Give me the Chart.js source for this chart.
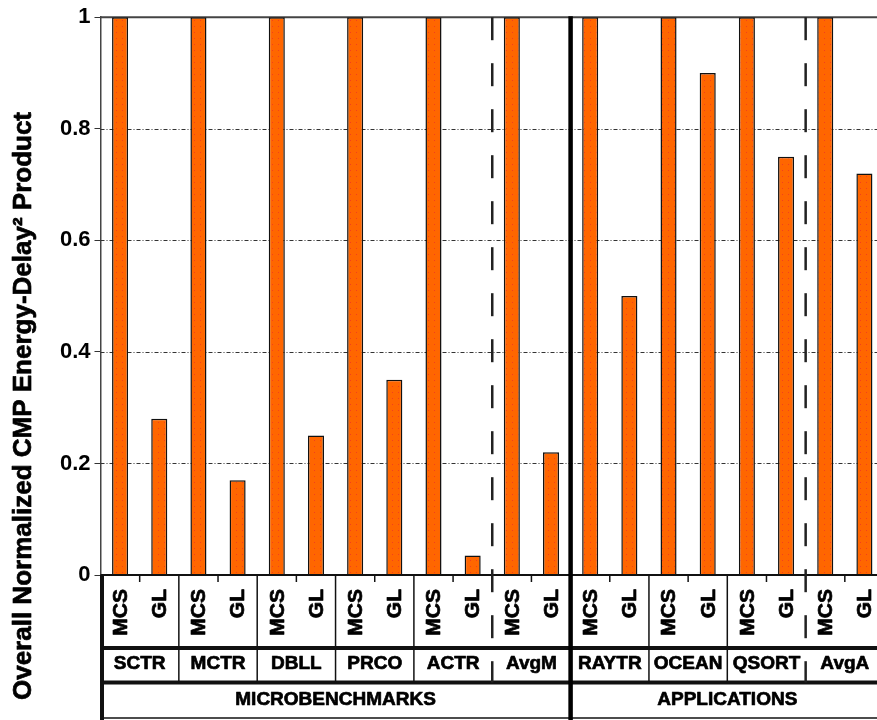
<!DOCTYPE html>
<html>
<head>
<meta charset="utf-8">
<script src="https://cdn.jsdelivr.net/npm/chart.js@4.4.1/dist/chart.umd.min.js"></script>
<style>
  html, body { margin: 0; padding: 0; background: #fff; overflow: hidden; }
  #wrap { width: 884px; height: 720px; }
</style>
</head>
<body>
<div id="wrap"><canvas id="edpChart" width="884" height="720"></canvas></div>
<script>
// Data
const suites = ['MICROBENCHMARKS', 'APPLICATIONS'];
const suiteSizes = [6, 4];
const benchmarks = ['SCTR', 'MCTR', 'DBLL', 'PRCO', 'ACTR', 'AvgM', 'RAYTR', 'OCEAN', 'QSORT', 'AvgA'];
const configs = ['MCS', 'GL'];
const mcsValues = [1, 1, 1, 1, 1, 1, 1, 1, 1, 1];
const glValues = [0.28, 0.17, 0.25, 0.35, 0.035, 0.22, 0.5, 0.9, 0.75, 0.72];
const yTicks = [0, 0.2, 0.4, 0.6, 0.8, 1];
const averageGroups = ['AvgM', 'AvgA'];   // a dashed line sits before each
const yTitle = 'Overall Normalized CMP Energy-Delay\u00b2 Product';

const FONT = '"Liberation Sans", Arial, Helvetica, sans-serif';

// orange fill with the faint red dot texture of the original
function dottedOrange() {
    const c = document.createElement('canvas');
    c.width = 6;
    c.height = 6;
    const g = c.getContext('2d');
    g.fillStyle = '#ff6600';
    g.fillRect(0, 0, 6, 6);
    g.fillStyle = '#f2401c';
    g.fillRect(2, 2, 1, 1);
    return g.createPattern(c, 'repeat');
}
const barFill = dottedOrange();

// heavy text: fill plus a thin stroke, the original type is very black
function heavyText(ctx, s, px, py) {
    ctx.fillText(s, px, py);
    ctx.strokeText(s, px, py);
}

const tablePlugin = {
    id: 'benchTable',
    beforeDatasetsDraw(chart) {
        const { ctx, chartArea: a, scales: { y } } = chart;
        ctx.save();
        // dash-dot grid lines
        ctx.strokeStyle = '#333';
        ctx.lineWidth = 1;
        ctx.setLineDash([4, 2, 1, 2]);
        yTicks.forEach(v => {
            if (v === 0 || v === 1) return;
            const py = Math.round(y.getPixelForValue(v)) + 0.5;
            ctx.beginPath();
            ctx.moveTo(a.left, py);
            ctx.lineTo(a.right, py);
            ctx.stroke();
        });
        ctx.setLineDash([]);
        // top frame
        ctx.strokeStyle = '#444';
        ctx.lineWidth = 2;
        const top = y.getPixelForValue(1);
        ctx.beginPath();
        ctx.moveTo(a.left, top);
        ctx.lineTo(a.right, top);
        ctx.stroke();
        ctx.restore();
    },
    afterDraw(chart) {
        const { ctx, chartArea: a, scales: { x } } = chart;
        const half = (x.getPixelForValue(1) - x.getPixelForValue(0)) / 2;
        const edge = i => x.getPixelForValue(i) - half;
        const row2 = 648, row3 = 682.5, bottom = 718;

        ctx.save();
        ctx.strokeStyle = '#111';

        // x axis line
        ctx.lineWidth = 2;
        ctx.beginPath();
        ctx.moveTo(a.left, a.bottom);
        ctx.lineTo(a.right, a.bottom);
        ctx.stroke();

        // thick row separators
        ctx.lineWidth = 4;
        [row2, row3].forEach(py => {
            ctx.beginPath();
            ctx.moveTo(a.left, py);
            ctx.lineTo(a.right, py);
            ctx.stroke();
        });
        ctx.lineWidth = 1.5;
        ctx.beginPath();
        ctx.moveTo(a.left, bottom);
        ctx.lineTo(a.right, bottom);
        ctx.stroke();

        // left border of the table
        ctx.lineWidth = 4;
        ctx.beginPath();
        ctx.moveTo(a.left + 1.5, a.bottom);
        ctx.lineTo(a.left + 1.5, 720);
        ctx.stroke();

        // suite boundaries
        const suiteStarts = [];
        let acc = 0;
        suiteSizes.forEach(n => { suiteStarts.push(acc); acc += n; });
        const dashedIdx = averageGroups.map(g => benchmarks.indexOf(g));

        // group separators and in-group ticks
        ctx.lineWidth = 1.5;
        benchmarks.forEach((b, i) => {
            if (i > 0 && !suiteStarts.includes(i) && !dashedIdx.includes(i)) {
                ctx.beginPath();
                ctx.moveTo(edge(i), a.bottom);
                ctx.lineTo(edge(i), row3);
                ctx.stroke();
            }
            const cx = x.getPixelForValue(i);
            ctx.beginPath();
            ctx.moveTo(cx, a.bottom);
            ctx.lineTo(cx, a.bottom + 7);
            ctx.stroke();
        });

        // dashed lines before the averages
        ctx.strokeStyle = '#222';
        ctx.lineWidth = 2.5;
        ctx.setLineDash([23, 23]);
        dashedIdx.forEach(i => {
            ctx.beginPath();
            ctx.moveTo(edge(i), a.top);
            ctx.lineTo(edge(i), row3);
            ctx.stroke();
        });
        ctx.setLineDash([]);

        // thick divider between suites
        ctx.strokeStyle = '#000';
        ctx.lineWidth = 4.5;
        suiteStarts.slice(1).forEach(i => {
            ctx.beginPath();
            ctx.moveTo(edge(i), a.top - 1);
            ctx.lineTo(edge(i), 720);
            ctx.stroke();
        });

        ctx.fillStyle = '#000';
        ctx.strokeStyle = '#000';
        ctx.lineWidth = 0.7;
        ctx.lineJoin = 'round';

        // row 1: config names, rotated
        ctx.font = 'bold 21px ' + FONT;
        ctx.textAlign = 'right';
        ctx.textBaseline = 'middle';
        configs.forEach((c, j) => {
            chart.getDatasetMeta(j).data.forEach(bar => {
                ctx.save();
                ctx.translate(bar.x + 1, 589);
                ctx.rotate(-Math.PI / 2);
                heavyText(ctx, c, 0, 0);
                ctx.restore();
            });
        });

        // row 2: benchmark names
        ctx.font = 'bold 19px ' + FONT;
        ctx.textAlign = 'center';
        benchmarks.forEach((b, i) => {
            heavyText(ctx, b, x.getPixelForValue(i), 664);
        });

        // row 3: suite names
        suites.forEach((s, k) => {
            const from = edge(suiteStarts[k]);
            const to = edge(suiteStarts[k] + suiteSizes[k]);
            heavyText(ctx, s, (from + to) / 2, 700);
        });

        // y axis title
        ctx.font = 'bold 26px ' + FONT;
        ctx.save();
        ctx.translate(24, 406);
        ctx.rotate(-Math.PI / 2);
        heavyText(ctx, yTitle, 0, 0);
        ctx.restore();

        ctx.restore();
    }
};

new Chart(document.getElementById('edpChart'), {
    type: 'bar',
    data: {
        labels: benchmarks,
        datasets: [
            { label: configs[0], data: mcsValues },
            { label: configs[1], data: glValues }
        ].map(ds => Object.assign(ds, {
            backgroundColor: barFill,
            borderColor: '#111',
            borderWidth: 1.5,
            categoryPercentage: 1,
            barPercentage: 0.41
        }))
    },
    options: {
        responsive: false,
        animation: false,
        layout: { padding: { top: 16.5, bottom: 145, left: 0, right: 0 } },
        plugins: {
            legend: { display: false },
            tooltip: { enabled: false }
        },
        scales: {
            x: { display: false },
            y: {
                min: 0,
                max: 1,
                afterFit(scale) { scale.width = 100.5; },
                ticks: {
                    stepSize: 0.2,
                    color: '#000',
                    padding: 4,
                    font: { family: FONT, size: 22, weight: 'bold' },
                    callback: v => String(Number(v.toFixed(2)))
                },
                grid: {
                    drawOnChartArea: false,
                    tickLength: 6,
                    tickColor: '#333',
                    lineWidth: 1
                },
                border: { display: true, color: '#444', width: 1.5 }
            }
        }
    },
    plugins: [tablePlugin]
});
</script>
</body>
</html>
